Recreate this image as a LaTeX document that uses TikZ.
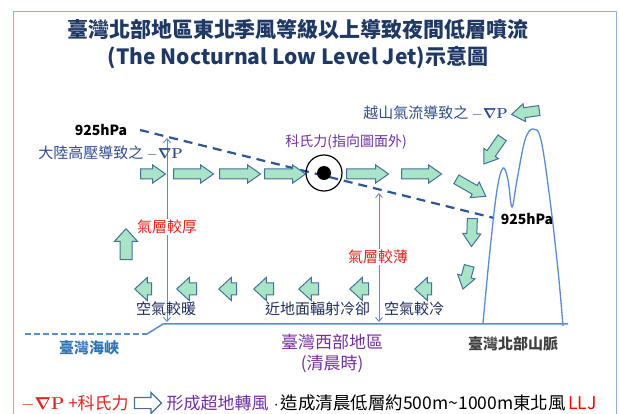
\documentclass[tikz,border=0pt]{standalone}
\usepackage{amsmath}
\usepackage[no-math]{fontspec}
\setmainfont{Noto Sans CJK TC}
\usetikzlibrary{shapes.arrows,arrows.meta,positioning}

\definecolor{titleblue}{HTML}{1F3864}
\definecolor{framebl}{HTML}{8EB4E3}
\definecolor{arrowfill}{HTML}{A9E4C7}
\definecolor{arrowline}{HTML}{41719C}
\definecolor{linebl}{HTML}{5B8BCF}
\definecolor{dashbl}{HTML}{2F5597}
\definecolor{labelbl}{HTML}{2F4C8C}
\definecolor{textnavy}{HTML}{1F2D5C}
\definecolor{warmred}{HTML}{E3231D}
\definecolor{corpurple}{HTML}{7030A0}
\definecolor{seabl}{HTML}{2E75B6}
\definecolor{mtgray}{HTML}{3F3F3F}

\newcommand{\gradP}{$-\boldsymbol{\nabla}\mathbf{P}$}

\tikzset{
  blockarrow/.style={single arrow, draw=arrowline, fill=arrowfill, line width=1pt, inner xsep=0pt},
  flowarrow/.style={blockarrow, inner ysep=4.5pt, single arrow head extend=4pt, single arrow tip angle=70},
  coolarrow/.style={blockarrow, inner ysep=5.5pt, single arrow head extend=5.5pt, single arrow tip angle=85},
  level/.style={draw=linebl, line width=0.9pt, {Straight Barb[length=4pt,width=7pt]}-{Straight Barb[length=4pt,width=7pt]}},
  lbl/.style={inner sep=1pt, font=\fontsize{15}{16}\selectfont},
  hpa/.style={inner sep=1pt, font=\fontsize{14}{15}\selectfont\bfseries},
}

\begin{document}
\begin{tikzpicture}[x=1pt,y=-1pt]
\useasboundingbox (0,0) rectangle (619,414);
% frame
\draw[framebl, line width=1pt] (13,414) |- (616,12) -- (616,414);

% title
\node[font=\fontsize{21}{27}\selectfont\bfseries, text=titleblue, align=center] (title) at (298,44)
  {臺灣北部地區東北季風等級以上導致夜間低層噴流\\(The Nocturnal Low Level Jet)示意圖};

% 925hPa level
\coordinate (lvlW) at (140,130);
\coordinate (lvlE) at (494,218);
\draw[dashbl, line width=2.2pt, dash pattern=on 9pt off 6pt] (lvlW) -- (lvlE);
\node[hpa] (hpaW) at (101,130) {925hPa};
\node[hpa] (hpaE) at (527,219) {925hPa};

% ground and strait
\coordinate (seaW) at (25,334);
\coordinate (seaE) at (147,334);
\coordinate (coastW) at (163,324);
\coordinate (groundE) at (568,324);
\draw[linebl, line width=1.5pt, dash pattern=on 6pt off 3pt] (seaW) -- (seaE);
\draw[linebl, line width=1.5pt] (seaE) -- (coastW) -- (groundE);

% mountains
\draw[linebl, line width=1.3pt] plot[smooth, tension=0.6] coordinates
  {(483,323) (490,250) (497,190) (503,168) (508,180) (512,207) (517,180) (525,140) (533,129) (541,140) (550,200) (558,270) (563,326)};

% layer depth
\coordinate (thickT) at (167,138);
\coordinate (thickB) at (167,322);
\coordinate (thinT) at (379,193);
\coordinate (thinB) at (379,322);
\draw[level] (thickT) -- (thickB);
\draw[level] (thinT) -- (thinB);
\node[lbl, fill=white, text=warmred] (thick) at (167,227) {氣層較厚};
\node[lbl, fill=white, text=warmred] (thin) at (378,257) {氣層較薄};

% pressure gradient labels
\node[lbl, anchor=east, text=labelbl] (pgfW) at (184,153) {大陸高壓導致之 \gradP};
\node[lbl, anchor=east, text=labelbl] (pgfE) at (509,113) {越山氣流導致之 \gradP};

% upper flow
\node[flowarrow, minimum height=25pt] (e1) at (149.5,174) {};
\node[flowarrow, minimum height=40pt] (e2) at (190,174) {};
\node[flowarrow, minimum height=41pt] (e3) at (236.5,174) {};
\node[flowarrow, minimum height=41pt] (e4) at (281.5,174) {};
\node[flowarrow, minimum height=42pt] (e5) at (364,174) {};
\node[flowarrow, minimum height=40pt] (e6) at (418,174) {};
\node[flowarrow, minimum height=34pt, rotate=-30] (s1) at (468,186) {};
\node[flowarrow, minimum height=28pt, rotate=-92] (s2) at (472,229) {};
\node[flowarrow, minimum height=24pt, rotate=-105] (s3) at (467,274) {};
\node[flowarrow, minimum height=32pt, rotate=-125] (m1) at (495,148) {};
\node[flowarrow, minimum height=28pt, rotate=188] (m2) at (529,112) {};

% coriolis, out of the page
\node[circle, draw=black, line width=1.2pt, minimum size=36pt, inner sep=0pt] (cor) at (324,173) {};
\fill (cor.center) circle (7pt);
\node[inner sep=1pt, font=\fontsize{14}{15}\selectfont, text=corpurple] (corlbl) at (346,142) {科氏力(指向圖面外)};

% lower return flow
\node[coolarrow, minimum height=17pt, rotate=180] (w1) at (146.5,289) {};
\node[coolarrow, minimum height=20pt, rotate=180] (w2) at (190,289) {};
\node[coolarrow, minimum height=18pt, rotate=180] (w3) at (231,289) {};
\node[coolarrow, minimum height=20pt, rotate=180] (w4) at (267,289) {};
\node[coolarrow, minimum height=20pt, rotate=180] (w5) at (312,289) {};
\node[coolarrow, minimum height=19pt, rotate=180] (w6) at (362.5,289) {};
\node[coolarrow, minimum height=17pt, rotate=180] (w7) at (426.5,289) {};
\node[coolarrow, minimum height=31pt, rotate=90] (u1) at (126,247.5) {};

\node[lbl, text=textnavy] (warm) at (166,309) {空氣較暖};
\node[lbl, text=textnavy] (cooling) at (317.5,309) {近地面輻射冷卻};
\node[lbl, text=textnavy] (cold) at (414,309) {空氣較冷};

% places
\node[lbl, text=seabl, font=\fontsize{15}{16}\selectfont\bfseries] (strait) at (89,348) {臺灣海峽};
\node[inner sep=1pt, align=center, text=corpurple, font=\fontsize{17}{21}\selectfont] (west) at (332,353) {臺灣西部地區\\(清晨時)};
\node[lbl, text=mtgray, font=\fontsize{15}{16}\selectfont\bfseries] (north) at (513,344) {臺灣北部山脈};

% summary
\node[inner sep=1pt, anchor=west, text=warmred, font=\fontsize{17}{18}\selectfont] (force) at (20,403) {\gradP\ +科氏力};
\node[single arrow, draw=arrowline, fill=white, line width=1.2pt, inner xsep=0pt, inner ysep=5pt,
  single arrow head extend=5pt, minimum height=27pt, right=4pt of force] (thus) {};
\node[inner sep=1pt, right=3pt of thus, text=corpurple, font=\fontsize{17}{18}\selectfont] (geo) {形成超地轉風};
\node[inner sep=1pt, right=0pt of geo, font=\fontsize{17.5}{18}\selectfont] (result) {\hspace{3pt}$\cdot$\hspace{2pt}造成清晨低層約500m\textasciitilde1000m東北風};
\node[inner sep=1pt, right=0pt of result, text=red, font=\fontsize{17.5}{18}\selectfont] (llj) {LLJ};
\end{tikzpicture}
\end{document}
